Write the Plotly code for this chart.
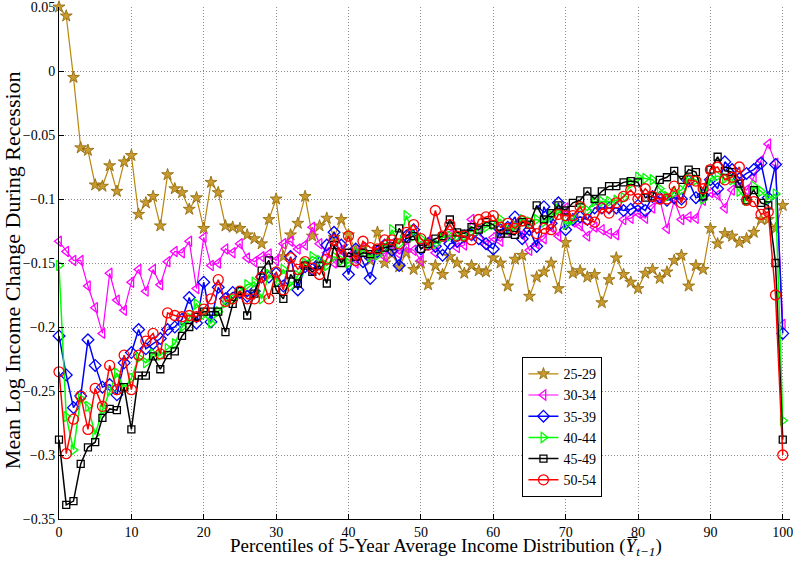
import plotly.graph_objects as go

percentiles = list(range(0, 101))

age_groups = ["25-29", "30-34", "35-39", "40-44", "45-49", "50-54"]

s2529 = [0.050, 0.043, -0.005, -0.060, -0.062, -0.089, -0.090, -0.074, -0.094, -0.071,
         -0.066, -0.112, -0.103, -0.098, -0.121, -0.081, -0.092, -0.095, -0.108, -0.099,
         -0.123, -0.087, -0.095, -0.121, -0.122, -0.123, -0.128, -0.131, -0.135, -0.116,
         -0.100, -0.145, -0.128, -0.119, -0.098, -0.129, -0.121, -0.115, -0.130, -0.116,
         -0.128, -0.140, -0.138, -0.148, -0.126, -0.150, -0.143, -0.153, -0.142, -0.155,
         -0.150, -0.167, -0.152, -0.159, -0.145, -0.150, -0.158, -0.152, -0.156, -0.157,
         -0.146, -0.150, -0.168, -0.147, -0.144, -0.176, -0.161, -0.157, -0.150, -0.170,
         -0.134, -0.158, -0.156, -0.161, -0.159, -0.181, -0.163, -0.146, -0.159, -0.165,
         -0.170, -0.158, -0.155, -0.162, -0.157, -0.148, -0.144, -0.168, -0.152, -0.155,
         -0.123, -0.135, -0.127, -0.129, -0.134, -0.131, -0.126, -0.116, -0.116, -0.123,
         -0.105]

s3034 = [-0.133, -0.141, -0.148, -0.148, -0.168, -0.185, -0.205, -0.158, -0.179, -0.187,
         -0.165, -0.155, -0.172, -0.155, -0.167, -0.149, -0.141, -0.142, -0.133, -0.170,
         -0.130, -0.152, -0.150, -0.139, -0.142, -0.135, -0.146, -0.149, -0.145, -0.143,
         -0.148, -0.135, -0.133, -0.139, -0.136, -0.122, -0.135, -0.142, -0.150, -0.140,
         -0.145, -0.150, -0.138, -0.145, -0.140, -0.145, -0.135, -0.143, -0.138, -0.140,
         -0.148, -0.133, -0.142, -0.130, -0.128, -0.138, -0.136, -0.116, -0.125, -0.136,
         -0.130, -0.133, -0.125, -0.120, -0.128, -0.140, -0.135, -0.131, -0.122, -0.129,
         -0.107, -0.118, -0.121, -0.129, -0.122, -0.124, -0.127, -0.128, -0.116, -0.115,
         -0.111, -0.115, -0.107, -0.100, -0.123, -0.101, -0.116, -0.114, -0.115, -0.101,
         -0.095, -0.097, -0.107, -0.093, -0.088, -0.093, -0.083, -0.070, -0.057, -0.072,
         -0.198]

s3539 = [-0.207, -0.2375, -0.263, -0.254, -0.210, -0.230, -0.247, -0.245, -0.253, -0.228,
         -0.220, -0.202, -0.217, -0.213, -0.209, -0.202, -0.200, -0.194, -0.177, -0.197,
         -0.165, -0.196, -0.169, -0.178, -0.173, -0.173, -0.176, -0.172, -0.161, -0.161,
         -0.158, -0.168, -0.145, -0.171, -0.153, -0.155, -0.150, -0.136, -0.126, -0.136,
         -0.159, -0.139, -0.149, -0.162, -0.141, -0.136, -0.140, -0.152, -0.129, -0.124,
         -0.139, -0.135, -0.137, -0.144, -0.135, -0.133, -0.129, -0.128, -0.131, -0.135,
         -0.139, -0.124, -0.122, -0.114, -0.131, -0.124, -0.137, -0.106, -0.119, -0.103,
         -0.124, -0.116, -0.114, -0.116, -0.107, -0.107, -0.107, -0.107, -0.109, -0.108,
         -0.105, -0.109, -0.098, -0.099, -0.101, -0.099, -0.100, -0.086, -0.099, -0.097,
         -0.085, -0.092, -0.071, -0.077, -0.084, -0.080, -0.077, -0.072, -0.099, -0.073,
         -0.205]

s4044 = [-0.152, -0.270, -0.296, -0.256, -0.262, -0.284, -0.265, -0.250, -0.236, -0.248,
         -0.240, -0.224, -0.228, -0.221, -0.222, -0.217, -0.213, -0.200, -0.193, -0.182,
         -0.190, -0.197, -0.188, -0.181, -0.178, -0.172, -0.167, -0.165, -0.178, -0.159,
         -0.165, -0.155, -0.168, -0.160, -0.150, -0.145, -0.148, -0.152, -0.145, -0.148,
         -0.150, -0.142, -0.140, -0.145, -0.144, -0.138, -0.124, -0.135, -0.113, -0.129,
         -0.131, -0.135, -0.135, -0.130, -0.129, -0.129, -0.129, -0.125, -0.124, -0.122,
         -0.120, -0.116, -0.124, -0.121, -0.116, -0.118, -0.116, -0.118, -0.113, -0.108,
         -0.120, -0.116, -0.105, -0.109, -0.102, -0.102, -0.102, -0.101, -0.099, -0.088,
         -0.083, -0.084, -0.085, -0.092, -0.098, -0.095, -0.093, -0.084, -0.085, -0.100,
         -0.084, -0.082, -0.084, -0.085, -0.094, -0.101, -0.090, -0.094, -0.100, -0.096,
         -0.273]

s4549 = [-0.288, -0.339, -0.336, -0.307, -0.294, -0.290, -0.271, -0.264, -0.265, -0.247,
         -0.280, -0.238, -0.238, -0.223, -0.233, -0.222, -0.219, -0.207, -0.200, -0.192,
         -0.188, -0.188, -0.188, -0.204, -0.182, -0.172, -0.191, -0.174, -0.156, -0.148,
         -0.171, -0.178, -0.159, -0.166, -0.152, -0.157, -0.152, -0.166, -0.136, -0.150,
         -0.142, -0.145, -0.142, -0.143, -0.139, -0.138, -0.137, -0.123, -0.131, -0.129,
         -0.139, -0.135, -0.131, -0.129, -0.116, -0.126, -0.127, -0.122, -0.124, -0.118,
         -0.120, -0.127, -0.127, -0.128, -0.118, -0.120, -0.105, -0.116, -0.111, -0.105,
         -0.109, -0.103, -0.101, -0.094, -0.100, -0.094, -0.090, -0.090, -0.087, -0.086,
         -0.087, -0.099, -0.098, -0.085, -0.083, -0.078, -0.085, -0.077, -0.079, -0.098,
         -0.077, -0.067, -0.078, -0.079, -0.088, -0.101, -0.093, -0.103, -0.105, -0.150,
         -0.288]

s5054 = [-0.235, -0.299, -0.272, -0.254, -0.280, -0.248, -0.262, -0.230, -0.249, -0.222,
         -0.249, -0.222, -0.211, -0.205, -0.221, -0.189, -0.191, -0.192, -0.191, -0.192,
         -0.186, -0.178, -0.163, -0.180, -0.178, -0.172, -0.178, -0.178, -0.161, -0.178,
         -0.157, -0.171, -0.146, -0.155, -0.149, -0.154, -0.159, -0.147, -0.132, -0.143,
         -0.129, -0.148, -0.133, -0.138, -0.139, -0.132, -0.132, -0.135, -0.126, -0.120,
         -0.131, -0.136, -0.109, -0.129, -0.120, -0.129, -0.129, -0.132, -0.116, -0.114,
         -0.113, -0.122, -0.119, -0.123, -0.117, -0.119, -0.127, -0.123, -0.124, -0.112,
         -0.113, -0.113, -0.106, -0.116, -0.118, -0.107, -0.111, -0.103, -0.098, -0.093,
         -0.100, -0.092, -0.098, -0.100, -0.100, -0.090, -0.103, -0.085, -0.086, -0.092,
         -0.077, -0.075, -0.085, -0.083, -0.075, -0.101, -0.102, -0.112, -0.110, -0.175,
         -0.300]

x_ticks = list(range(0, 101, 10))
y_ticks = [0.05, 0, -0.05, -0.1, -0.15, -0.2, -0.25, -0.3, -0.35]
y_ticktext = ["0.05", "0", "\u22120.05", "\u22120.1", "\u22120.15", "\u22120.2",
              "\u22120.25", "\u22120.3", "\u22120.35"]

x_title = "Percentiles of 5-Year Average Income Distribution (<i>Y\u0305</i><sub><i>t\u22121</i></sub>)"
y_title = "Mean Log Income Change During Recession"

series = [s2529, s3034, s3539, s4044, s4549, s5054]
colors = ["#B8860B", "#FF00FF", "#0000FF", "#00FF00", "#000000", "#FF0000"]
symbols = ["star", "triangle-left-open", "diamond-open", "triangle-right-open",
           "square-open", "circle-open"]
sizes = [9, 9, 9, 9, 7, 10]
widths = [1.2, 1.2, 1.5, 1.5, 1.5, 1.5]

FONT = "Liberation Serif, DejaVu Serif, serif"

fig = go.Figure()
for name, vals, c, sym, sz, w in zip(age_groups, series, colors, symbols, sizes, widths):
    marker = dict(symbol=sym, size=sz, color=c, line=dict(color=c, width=1.3))
    if sym == "star":
        marker = dict(symbol=sym, size=sz, color="#C99A2E", line=dict(color="#8B6508", width=0.8))
    fig.add_trace(go.Scatter(
        x=percentiles, y=vals, name=name, mode="lines+markers",
        line=dict(color=c, width=w), marker=marker, cliponaxis=False,
    ))

fig.update_layout(
    width=793, height=561,
    margin=dict(l=59, r=3, t=7, b=42, autoexpand=False),
    paper_bgcolor="white", plot_bgcolor="white",
    font=dict(family=FONT, size=14, color="black"),
    showlegend=True,
    legend=dict(
        x=0.634, y=0.316, xanchor="left", yanchor="top",
        bgcolor="white", bordercolor="black", borderwidth=1,
        font=dict(family=FONT, size=14, color="black"),
        itemwidth=30, tracegroupgap=0,
    ),
    annotations=[
        dict(text=x_title, xref="paper", yref="paper", x=0.530, y=-0.0815,
             xanchor="center", yanchor="bottom", showarrow=False,
             font=dict(family=FONT, size=19, color="black")),
        dict(text=y_title, xref="paper", yref="paper", x=-0.0643, y=0.486,
             xanchor="center", yanchor="middle", showarrow=False, textangle=-90,
             font=dict(family=FONT, size=22, color="black")),
    ],
)

fig.update_xaxes(
    range=[0, 101], tickvals=x_ticks, ticks="inside", ticklen=5, tickcolor="black",
    showline=True, linecolor="black", linewidth=1, mirror=False, automargin=False,
    ticklabeloverflow="allow",
    showgrid=True, gridcolor="#8c8c8c", griddash="1px,2px", gridwidth=1, zeroline=False,
    tickfont=dict(family=FONT, size=14),
)
fig.update_yaxes(
    range=[-0.35, 0.05], tickvals=y_ticks, ticktext=y_ticktext,
    ticks="inside", ticklen=5, tickcolor="black",
    showline=True, linecolor="black", linewidth=1, mirror=False, automargin=False,
    ticklabeloverflow="allow",
    showgrid=True, gridcolor="#8c8c8c", griddash="1px,2px", gridwidth=1, zeroline=False,
    tickfont=dict(family=FONT, size=14),
)

fig.write_html("out.html", config={"displayModeBar": False},
               post_script="document.body.style.margin='0px';document.body.style.overflow='hidden';")
